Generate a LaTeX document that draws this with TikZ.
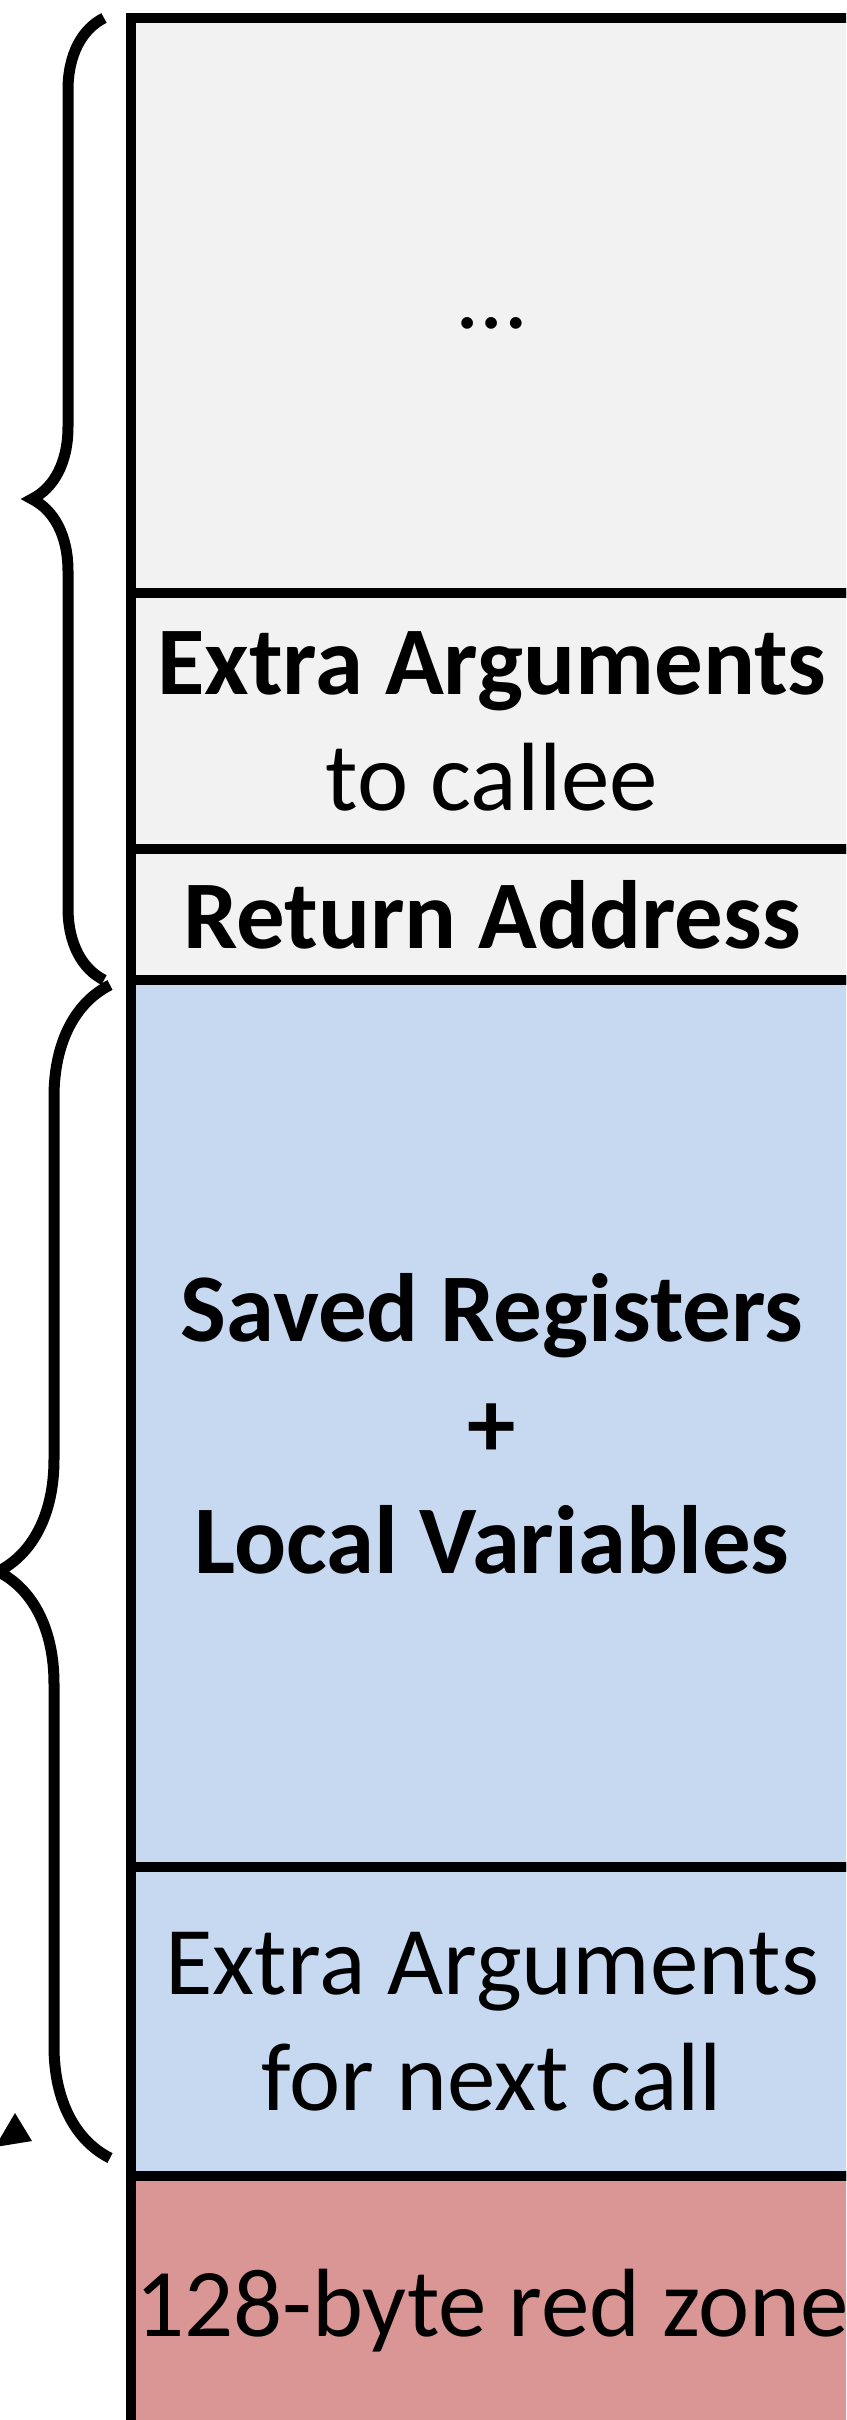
\documentclass[tikz,border=0pt]{standalone}
\usepackage{fontspec}
\setmainfont{Carlito}
\usetikzlibrary{arrows.meta,positioning,decorations.pathreplacing}
\definecolor{ink}{HTML}{000000}
\definecolor{callerbg}{HTML}{F2F2F2}
\definecolor{calleebg}{HTML}{C6D9F1}
\definecolor{redzone}{HTML}{D99694}
\tikzset{
  slot/.style={draw=ink,line width=10.5pt,fill=callerbg,minimum width=722pt,inner sep=0pt,outer sep=0pt,anchor=north,align=center,font=\fontsize{97}{116}\selectfont},
  slotb/.style={slot,fill=calleebg},
  slotr/.style={slot,fill=redzone},
  brc/.style={draw=ink,line width=11pt,decorate,decoration={brace,amplitude=#1}},
}

\begin{document}
\begin{tikzpicture}[x=1pt,y=-1pt]
  \useasboundingbox (0,0) rectangle (846,2420);
  \clip (0,0) rectangle (846,2420);

  % ── caller's frame ──
  \node[slot,minimum height=575pt] (dots) at (492,18) {\strut …};
  \node[slot,minimum height=256pt,below=0pt of dots] (xargs) {\textbf{Extra Arguments}\\to callee};
  \node[slot,minimum height=131pt,below=0pt of xargs] (ret) {\textbf{Return Address}};

  % ── callee's frame ──
  \node[slotb,minimum height=887pt,below=0pt of ret] (locals) {\textbf{Saved Registers}\\\textbf{+}\\\textbf{Local Variables}};
  \node[slotb,minimum height=309pt,below=0pt of locals] (nargs) {Extra Arguments\\for next call};
  \node[slotr,minimum height=270pt,below=0pt of nargs] (red) {128-byte red zone};

  % braces
  \draw[brc=72pt] (104,980) -- (104,18);
  \draw[brc=112pt] (110,2158) -- (110,985);

  % stack pointer tip
  \fill[ink] (15,2113) -- (32,2141) -- (-5,2147) -- cycle;
\end{tikzpicture}
\end{document}
